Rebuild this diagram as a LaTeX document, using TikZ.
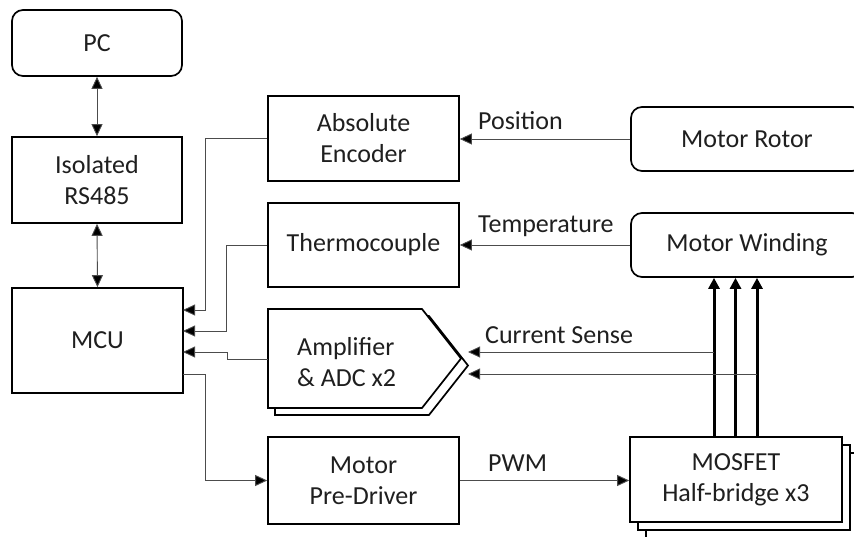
\documentclass[tikz,border=0pt]{standalone}
\usepackage{fontspec}
\setmainfont{Carlito}
\usetikzlibrary{arrows.meta}
\begin{document}
\begin{tikzpicture}[x=1pt,y=-1pt,
  every node/.style={font=\fontsize{26}{31}\selectfont, text=black!88},
  blk/.style={draw=black, line width=1.7pt, fill=white, align=center, inner sep=0pt},
  rblk/.style={blk, rounded corners=11pt},
  conn/.style={draw=black!70, line width=0.9pt},
  arr/.style={conn, -{Triangle[length=12pt,width=11pt,fill=black]}},
  darr/.style={conn, {Triangle[length=12pt,width=11pt,fill=black]}-{Triangle[length=12pt,width=11pt,fill=black]}},
  thick arr/.style={draw=black, line width=3pt, -{Triangle[length=11pt,width=11pt]}},
  lbl/.style={anchor=base west, inner sep=0pt}
]
\useasboundingbox (0,0) rectangle (854,537);
\clip (0,0) rectangle (854,537);
\fill[white] (0,0) rectangle (854,537);

% left column
\node[rblk, minimum width=170pt, minimum height=66pt] (pc) at (97,43) {PC};
\node[blk, minimum width=170pt, minimum height=86pt] (rs) at (97,180) {Isolated\\RS485};
\node[blk, minimum width=171pt, minimum height=105pt] (mcu) at (97.5,340.5) {MCU};

% middle column
\node[blk, minimum width=191pt, minimum height=85pt] (enc) at (363.5,138.5) {Absolute\\Encoder};
\node[blk, minimum width=191pt, minimum height=84pt] (thermo) at (363.5,245) {Thermocouple};
\draw[line width=1.7pt, fill=white] (275,316) -- (429,316) -- (468,365.5) -- (429,415) -- (275,415) -- cycle;
\draw[line width=1.7pt, fill=white] (268,309) -- (422,309) -- (461,358.5) -- (422,408) -- (268,408) -- cycle;
\node[align=left, anchor=west, inner sep=0pt] (amp) at (297,362) {Amplifier\\\& ADC x2};
\coordinate (ampin) at (268,359);
\coordinate (amptipa) at (468,352);
\coordinate (amptipb) at (468,374);
\node[blk, minimum width=191pt, minimum height=87pt] (pre) at (363.5,480.5) {Motor\\Pre-Driver};

% right column
\node[rblk, minimum width=232pt, minimum height=64pt] (rotor) at (747,139) {Motor Rotor};
\node[rblk, minimum width=232pt, minimum height=64pt] (wind) at (747,245) {Motor Winding};
\node[blk, minimum width=212pt, minimum height=85pt] (mos3) at (752,495.5) {};
\node[blk, minimum width=212pt, minimum height=85pt] (mos2) at (744,487.5) {};
\node[blk, minimum width=212pt, minimum height=85pt] (mos) at (736,479.5) {MOSFET\\Half-bridge x3};

% left column links
\draw[darr] (pc.south) -- (rs.north);
\draw[darr] (rs.south) -- (mcu.north);

% inputs to MCU
\coordinate (e1) at (205,310);
\coordinate (e2) at (183,310);
\draw[arr] (enc.west) -| (e1) -- (e2);
\coordinate (t1) at (226,331);
\coordinate (t2) at (183,331);
\draw[arr] (thermo.west) -| (t1) -- (t2);
\coordinate (a1) at (227,359);
\coordinate (a2) at (227,352);
\coordinate (a3) at (183,352);
\draw[arr] (ampin) -- (a1) -- (a2) -- (a3);

% MCU to pre-driver
\coordinate (m0) at (183,374);
\coordinate (m1) at (205,374);
\draw[arr] (m0) -- (m1) |- (pre.west);

% PWM
\draw[arr] (pre.east) -- (pre.east -| mos.west);
\node[lbl] (pwm) at (488,471) {PWM};

% Position / Temperature
\draw[arr] (rotor.west) -- (rotor.west -| enc.east);
\node[lbl] (pos) at (478,130) {Position};
\draw[arr] (wind.west) -- (wind.west -| thermo.east);
\node[lbl] (temp) at (478,233) {Temperature};

% phase lines
\coordinate (p1) at (714,437);
\coordinate (p2) at (735.5,437);
\coordinate (p3) at (757,437);
\draw[thick arr] (p1) -- (p1 |- wind.south);
\draw[thick arr] (p2) -- (p2 |- wind.south);
\draw[thick arr] (p3) -- (p3 |- wind.south);

% current sense
\coordinate (c1) at (714,352);
\coordinate (c2) at (757,374);
\draw[arr] (c1) -- (amptipa);
\draw[arr] (c2) -- (amptipb);
\node[lbl] (cs) at (485,343) {Current Sense};
\end{tikzpicture}
\end{document}
